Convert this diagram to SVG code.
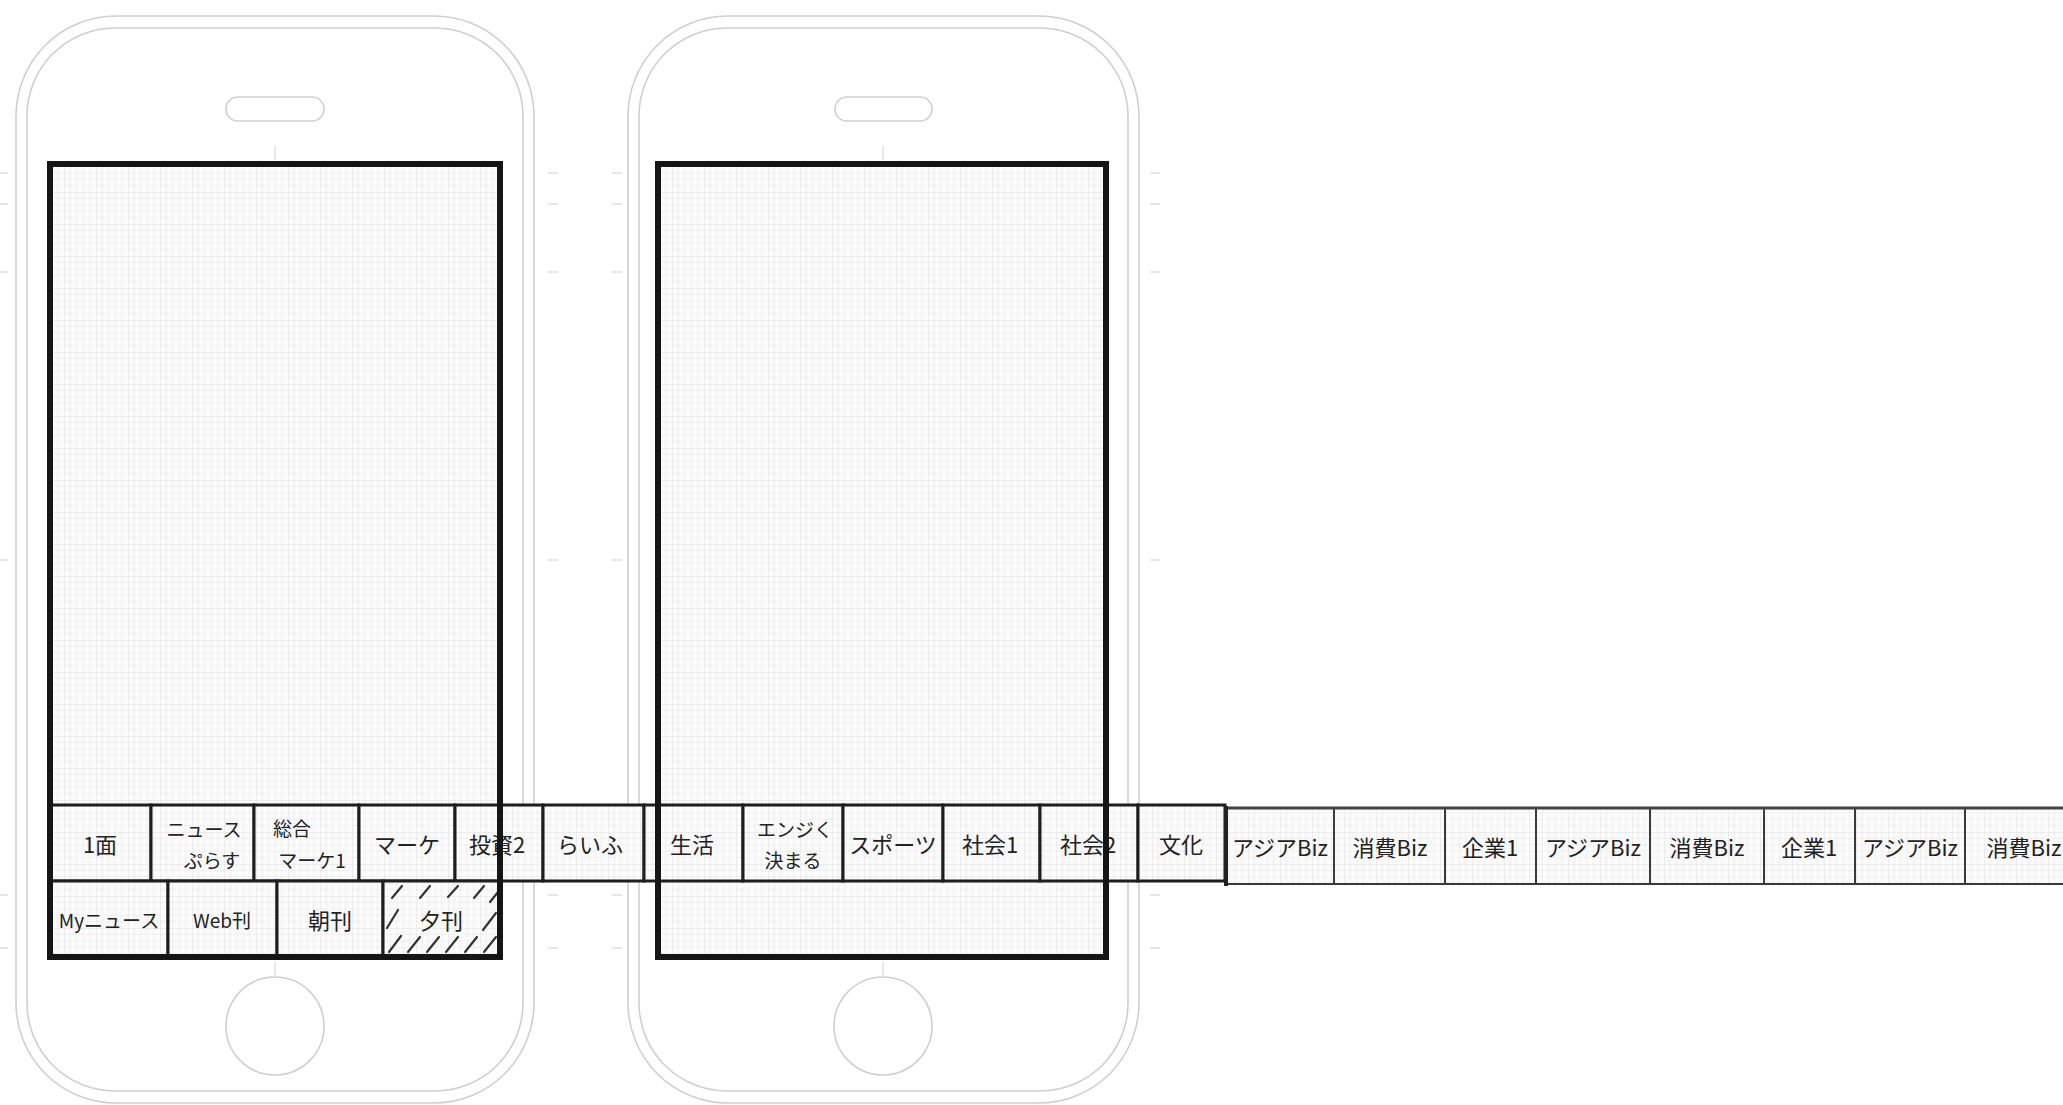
<svg xmlns="http://www.w3.org/2000/svg" width="2063" height="1105" viewBox="0 0 2063 1105">
<defs>
<pattern id="grid" width="32" height="32" patternUnits="userSpaceOnUse">
<rect width="32" height="32" fill="#fbfbfb"/>
<path d="M6.4 0V32M12.8 0V32M19.2 0V32M25.6 0V32M0 6.4H32M0 12.8H32M0 19.2H32M0 25.6H32" stroke="#ebebeb" stroke-width="0.7"/>
<path d="M0 0V32M0 0H32" stroke="#dcdcdc" stroke-width="0.9"/>
</pattern>
</defs>
<style>
.body{fill:none;stroke:#cfcfcf;stroke-width:1.6}
.scrfill{fill:url(#grid);stroke:none}
.scrborder{fill:none;stroke:#151515;stroke-width:6}
.cell{fill:url(#grid);stroke:#1e1e1e;stroke-width:3}
.scell{fill:url(#grid);stroke:#3a3a3a;stroke-width:2}
.lbl{font-family:"Noto Sans CJK JP","Noto Sans",sans-serif;fill:#222;text-anchor:middle;dominant-baseline:central;font-size:22px}
.sm{font-size:19px}
.tick{stroke:#dedede;stroke-width:1.4}
.hatch{stroke:#333;stroke-width:2.2;stroke-linecap:round}
</style>
<rect width="2063" height="1105" fill="#ffffff"/>

<g id="phone1">
<rect class="body" x="16" y="16" width="518" height="1087" rx="100"/>
<rect class="body" x="27" y="28" width="496" height="1063" rx="88"/>
<rect class="body" x="226" y="97" width="98" height="24" rx="12"/>
<circle class="body" cx="275" cy="1026" r="49"/>
<line class="tick" x1="275" y1="146" x2="275" y2="160"/>
<line class="tick" x1="275" y1="962" x2="275" y2="977"/>
</g>
<g id="phone2">
<rect class="body" x="628" y="16" width="511" height="1087" rx="100"/>
<rect class="body" x="639" y="28" width="489" height="1063" rx="88"/>
<rect class="body" x="835" y="97" width="97" height="24" rx="12"/>
<circle class="body" cx="883" cy="1026" r="49"/>
<line class="tick" x1="883" y1="146" x2="883" y2="160"/>
<line class="tick" x1="883" y1="962" x2="883" y2="977"/>
</g>
<g id="ticks">
<path class="tick" d="M0 173H8M0 204H8M0 272H8M0 560H8M0 895H8M0 948H8M548 173H558M548 204H558M548 272H558M548 560H558M548 895H558M548 948H558M612 173H622M612 204H622M612 272H622M612 560H622M612 895H622M612 948H622M1150 173H1160M1150 204H1160M1150 272H1160M1150 560H1160M1150 895H1160M1150 948H1160"/>
</g>

<g id="screen1-fill"><rect class="scrfill" x="50" y="164" width="450" height="793"/></g>
<g id="screen2-fill"><rect class="scrfill" x="658" y="164" width="448" height="793"/></g>

<g id="tab-1men"><rect class="cell" x="50" y="805" width="101" height="76"/><text class="lbl" x="100" y="843">1面</text></g>
<g id="tab-newsplus"><rect class="cell" x="151" y="805" width="103" height="76"/><text class="lbl sm" x="204" y="828">ニュース</text><text class="lbl sm" x="212" y="859">ぷらす</text></g>
<g id="tab-sogo"><rect class="cell" x="254" y="805" width="105" height="76"/><text class="lbl sm" x="292" y="827">総合</text><text class="lbl sm" x="312" y="859">マーケ1</text></g>
<g id="tab-marke"><rect class="cell" x="359" y="805" width="96" height="76"/><text class="lbl" x="407" y="843">マーケ</text></g>
<g id="tab-toushi2"><rect class="cell" x="455" y="805" width="88" height="76"/><text class="lbl" x="497" y="843">投資2</text></g>
<g id="tab-life"><rect class="cell" x="543" y="805" width="101" height="76"/><text class="lbl" x="590" y="843">らいふ</text></g>
<g id="tab-gap"><rect class="cell" x="644" y="805" width="14" height="76"/></g>
<g id="tab-seikatsu"><rect class="cell" x="658" y="805" width="85" height="76"/><text class="lbl" x="692" y="843">生活</text></g>
<g id="tab-enjiku"><rect class="cell" x="743" y="805" width="100" height="76"/><text class="lbl sm" x="795" y="828">エンジく</text><text class="lbl sm" x="793" y="859">決まる</text></g>
<g id="tab-sports"><rect class="cell" x="843" y="805" width="100" height="76"/><text class="lbl" x="893" y="843">スポーツ</text></g>
<g id="tab-shakai1"><rect class="cell" x="943" y="805" width="97" height="76"/><text class="lbl" x="990" y="843">社会1</text></g>
<g id="tab-shakai2"><rect class="cell" x="1040" y="805" width="98" height="76"/><text class="lbl" x="1088" y="843">社会2</text></g>
<g id="tab-bunka"><rect class="cell" x="1138" y="805" width="87" height="76"/><text class="lbl" x="1181" y="843">文化</text></g>

<g id="tab-mynews"><rect class="cell" x="50" y="881" width="118" height="76"/><text class="lbl sm" x="109" y="919">Myニュース</text></g>
<g id="tab-webkan"><rect class="cell" x="168" y="881" width="109" height="76"/><text class="lbl sm" x="222" y="919">Web刊</text></g>
<g id="tab-chokan"><rect class="cell" x="277" y="881" width="106" height="76"/><text class="lbl" x="330" y="919">朝刊</text></g>
<g id="tab-yukan"><rect class="cell" x="383" y="881" width="117" height="76"/>
<path class="hatch" d="M392 898L402 886M420 898L430 886M448 897L458 886M474 898L484 886M490 902L498 892M389 952L401 936M408 952L420 937M427 952L439 937M446 952L458 937M465 952L477 937M484 952L496 937M387 928L398 910M483 930L496 913"/>
<text class="lbl" x="441" y="919">夕刊</text></g>

<g id="screen1"><rect class="scrborder" x="50" y="164" width="450" height="793"/></g>
<g id="screen2"><rect class="scrborder" x="658" y="164" width="448" height="793"/></g>

<g id="strip">
<g id="s-asia1"><rect class="scell" x="1225" y="808" width="109" height="76"/><text class="lbl" x="1280" y="846">アジアBiz</text></g>
<g id="s-shohi1"><rect class="scell" x="1334" y="808" width="111" height="76"/><text class="lbl" x="1390" y="846">消費Biz</text></g>
<g id="s-kigyo1"><rect class="scell" x="1445" y="808" width="91" height="76"/><text class="lbl" x="1490" y="846">企業1</text></g>
<g id="s-asia2"><rect class="scell" x="1536" y="808" width="114" height="76"/><text class="lbl" x="1593" y="846">アジアBiz</text></g>
<g id="s-shohi2"><rect class="scell" x="1650" y="808" width="114" height="76"/><text class="lbl" x="1707" y="846">消費Biz</text></g>
<g id="s-kigyo2"><rect class="scell" x="1764" y="808" width="91" height="76"/><text class="lbl" x="1809" y="846">企業1</text></g>
<g id="s-asia3"><rect class="scell" x="1855" y="808" width="110" height="76"/><text class="lbl" x="1910" y="846">アジアBiz</text></g>
<g id="s-shohi3"><rect class="scell" x="1965" y="808" width="120" height="76"/><text class="lbl" x="2024" y="846">消費Biz</text></g>
<line x1="1225" y1="808" x2="2063" y2="808" stroke="#444" stroke-width="3"/>
<line x1="1226" y1="806" x2="1226" y2="886" stroke="#222" stroke-width="4"/>
</g>
<g id="connectors"></g>
</svg>
